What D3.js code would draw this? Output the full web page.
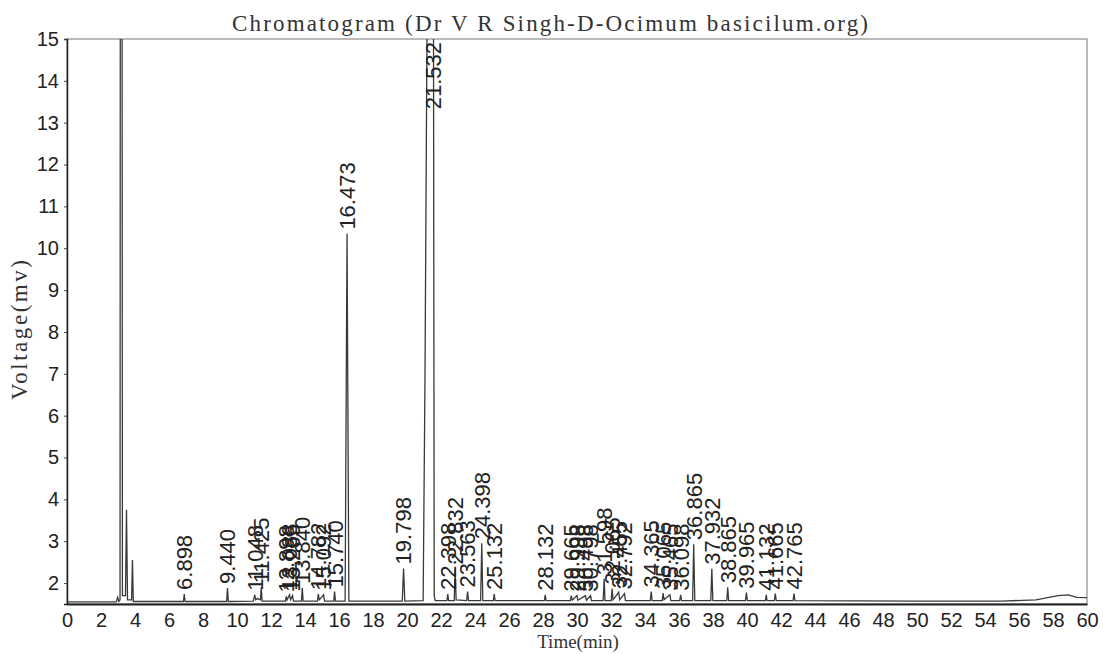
<!DOCTYPE html>
<html>
<head>
<meta charset="utf-8">
<script src="https://cdn.jsdelivr.net/npm/d3@7"></script>
<style>
  body { margin: 0; background: #fff; }
</style>
</head>
<body>
<div id="canvas"></div>
<script>
// Size and frame
const w = 1103;
const h = 654;
const plot = { left: 67, right: 1087, top: 39, bottom: 604 };

// Axis ticks
const xTicks = d3.range(0, 61, 2);
const yTicks = [2, 3, 4, 5, 6, 7, 8, 9, 10, 11, 12, 13, 14, 15];

// Labelled peaks: retention time (min) and apex voltage (mV)
const peakTimes = [6.898, 9.440, 11.048, 11.425, 12.898, 13.088, 13.265, 13.840, 14.782, 15.092, 15.740,
  16.473, 19.798, 21.532, 22.398, 22.832, 23.563, 24.398, 25.132, 28.132, 29.665, 29.998, 30.498, 30.798,
  31.598, 32.065, 32.455, 32.792, 34.365, 35.065, 35.465, 36.098, 36.865, 37.932, 38.865, 39.965,
  41.132, 41.665, 42.765];
const peakHeights = [1.74, 1.88, 1.72, 1.90, 1.68, 1.72, 1.70, 1.88, 1.74, 1.72, 1.80,
  10.35, 2.35, 45, 1.74, 2.35, 1.80, 2.95, 1.74, 1.72, 1.70, 1.70, 1.70, 1.70,
  2.10, 1.87, 1.78, 1.75, 1.80, 1.76, 1.72, 1.72, 2.93, 2.34, 1.90, 1.77,
  1.72, 1.75, 1.75];

// Detector trace: [time (min), voltage (mV)]
const trace = [
  [0, 1.55], [2.9, 1.55], [2.98, 1.66], [3.05, 1.56], [3.12, 1.6], [3.18, 60], [3.26, 1.7], [3.44, 1.7],
  [3.5, 3.75], [3.56, 1.6], [3.8, 1.6], [3.85, 2.55], [3.9, 1.56], [6.85, 1.56], [6.898, 1.74], [6.95, 1.56],
  [9.39, 1.56], [9.44, 1.88], [9.49, 1.56], [10.95, 1.57], [11.048, 1.72], [11.1, 1.6], [11.2, 1.63],
  [11.38, 1.6], [11.425, 1.9], [11.48, 1.57], [12.85, 1.57], [12.898, 1.68], [12.95, 1.6], [13.088, 1.72],
  [13.15, 1.6], [13.265, 1.7], [13.32, 1.57], [13.79, 1.57], [13.84, 1.88], [13.89, 1.57], [14.73, 1.57],
  [14.782, 1.74], [14.84, 1.6], [15.092, 1.72], [15.15, 1.57], [15.69, 1.57], [15.74, 1.8], [15.79, 1.57],
  [16.36, 1.57], [16.473, 10.35], [16.58, 1.57], [19.72, 1.57], [19.798, 2.35], [19.87, 1.57],
  [20.95, 1.58], [21.06, 7], [21.18, 15.5], [21.532, 45], [21.56, 15], [21.6, 1.7], [21.66, 1.58],
  [22.35, 1.58], [22.398, 1.74], [22.45, 1.58], [22.78, 1.58], [22.832, 2.35], [22.89, 1.6],
  [23.51, 1.58], [23.563, 1.8], [23.62, 1.58], [24.33, 1.58], [24.398, 2.95], [24.46, 1.58],
  [25.08, 1.58], [25.132, 1.74], [25.18, 1.58], [28.08, 1.58], [28.132, 1.72], [28.18, 1.58],
  [29.61, 1.58], [29.665, 1.7], [29.72, 1.59], [29.998, 1.7], [30.05, 1.59], [30.498, 1.7], [30.55, 1.59],
  [30.798, 1.7], [30.85, 1.58], [31.54, 1.58], [31.598, 2.1], [31.65, 1.58], [32.01, 1.58], [32.065, 1.87],
  [32.12, 1.6], [32.455, 1.78], [32.51, 1.6], [32.792, 1.75], [32.85, 1.58], [34.31, 1.58], [34.365, 1.8],
  [34.42, 1.58], [35.01, 1.58], [35.065, 1.76], [35.12, 1.6], [35.465, 1.72], [35.52, 1.58],
  [36.04, 1.58], [36.098, 1.72], [36.15, 1.58], [36.8, 1.58], [36.865, 2.93], [36.93, 1.58],
  [37.87, 1.58], [37.932, 2.34], [37.99, 1.58], [38.81, 1.58], [38.865, 1.9], [38.92, 1.58],
  [39.91, 1.58], [39.965, 1.77], [40.02, 1.58], [41.08, 1.58], [41.132, 1.72], [41.18, 1.58],
  [41.61, 1.58], [41.665, 1.75], [41.72, 1.58], [42.71, 1.58], [42.765, 1.75], [42.82, 1.58],
  [50, 1.57], [55, 1.57], [57, 1.6], [58.3, 1.7], [58.9, 1.72], [59.4, 1.66], [60, 1.65]
];

const title = "Chromatogram (Dr V R Singh-D-Ocimum basicilum.org)";

// Scales
const xScale = d3.scaleLinear().domain([0, 60]).range([plot.left, plot.right]);
const yScale = d3.scaleLinear().domain([1.5, 15]).range([plot.bottom, plot.top]);

const svg = d3.select("#canvas").append("svg")
  .attr("width", w)
  .attr("height", h)
  .style("background-color", "white");

svg.append("defs").append("clipPath")
  .attr("id", "plot-clip")
  .append("rect")
  .attr("x", plot.left)
  .attr("y", plot.top)
  .attr("width", plot.right - plot.left)
  .attr("height", plot.bottom - plot.top);

// Frame: light top/right, dark left/bottom
svg.append("rect")
  .attr("x", plot.left)
  .attr("y", plot.top)
  .attr("width", plot.right - plot.left)
  .attr("height", plot.bottom - plot.top)
  .attr("fill", "none")
  .attr("stroke", "#777")
  .attr("stroke-width", 1);

// Trace
const line = d3.line()
  .x(d => xScale(d[0]))
  .y(d => yScale(d[1]));

svg.append("path")
  .datum(trace)
  .attr("clip-path", "url(#plot-clip)")
  .attr("d", line)
  .attr("fill", "none")
  .attr("stroke", "#3a3a3a")
  .attr("stroke-width", 1.3);

// Axes
const xAxis = svg.append("g")
  .attr("transform", `translate(0, ${plot.bottom})`)
  .call(d3.axisBottom(xScale).tickValues(xTicks).tickSize(0).tickPadding(9).tickFormat(d3.format("d")));
xAxis.select(".domain").attr("stroke", "#222").attr("stroke-width", 2);
xAxis.selectAll(".tick text")
  .attr("fill", "#222")
  .style("font-family", "'Liberation Sans', Arial, sans-serif")
  .style("font-size", "20px");

const yAxis = svg.append("g")
  .attr("transform", `translate(${plot.left}, 0)`)
  .call(d3.axisLeft(yScale).tickValues(yTicks).tickSize(3).tickPadding(5).tickFormat(d3.format("d")));
yAxis.select(".domain").attr("stroke", "#222").attr("stroke-width", 1.5);
yAxis.selectAll(".tick line").attr("stroke", "#444");
yAxis.selectAll(".tick text")
  .attr("fill", "#222")
  .style("font-family", "'Liberation Sans', Arial, sans-serif")
  .style("font-size", "20px");

// Peak labels, rotated, sitting just above each apex
const labels = svg.append("g").attr("class", "peak-labels");
peakTimes.forEach((t, i) => {
  const clipped = peakHeights[i] > 15;
  const x = xScale(t);
  const y = clipped ? plot.top + 3 : yScale(peakHeights[i]) - 4;
  labels.append("text")
    .attr("transform", `translate(${x}, ${y}) rotate(-90)`)
    .attr("dy", "0.36em")
    .attr("text-anchor", clipped ? "end" : "start")
    .attr("fill", "#222")
    .style("font-family", "'Liberation Sans', Arial, sans-serif")
    .style("font-size", "22px")
    .text(t.toFixed(3));
});

// Title and axis titles
svg.append("text")
  .attr("x", 232)
  .attr("y", 31)
  .attr("textLength", 636)
  .attr("lengthAdjust", "spacing")
  .attr("fill", "#333")
  .style("font-family", "'Liberation Serif', 'DejaVu Serif', serif")
  .style("font-size", "23px")
  .text(title);

svg.append("text")
  .attr("transform", "translate(27, 330) rotate(-90)")
  .attr("text-anchor", "middle")
  .attr("textLength", 140)
  .attr("lengthAdjust", "spacing")
  .attr("fill", "#333")
  .style("font-family", "'Liberation Serif', 'DejaVu Serif', serif")
  .style("font-size", "23px")
  .text("Voltage(mv)");

svg.append("text")
  .attr("x", xScale(30) + 1)
  .attr("y", 648)
  .attr("text-anchor", "middle")
  .attr("fill", "#333")
  .style("font-family", "'Liberation Serif', 'DejaVu Serif', serif")
  .style("font-size", "19px")
  .text("Time(min)");
</script>
</body>
</html>
